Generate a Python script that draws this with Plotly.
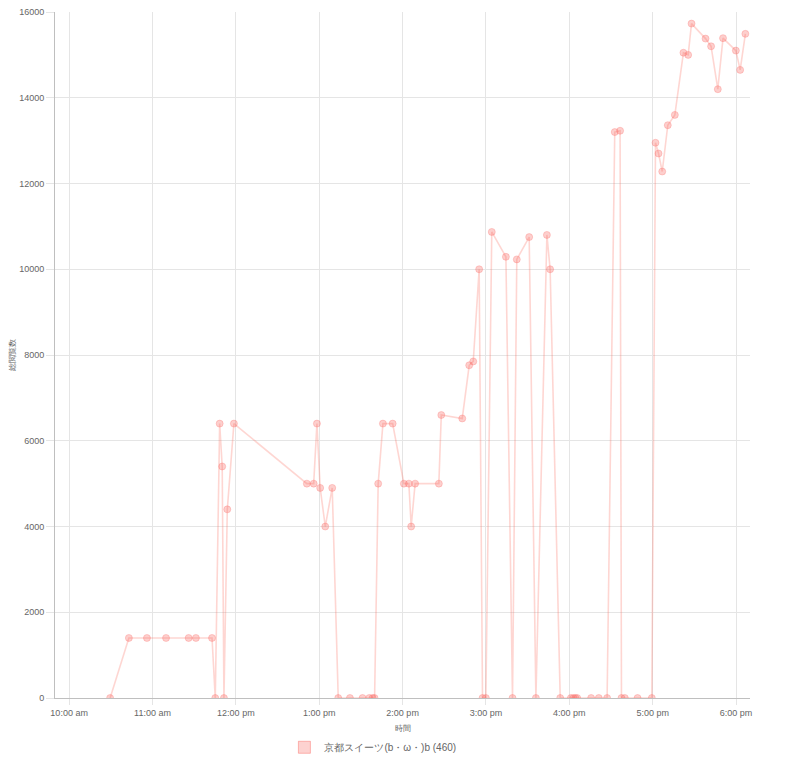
import plotly.graph_objects as go

DAY = "2016-01-01 "

times = [
    "10:29:30", "10:43:00", "10:56:00", "11:09:45", "11:26:00", "11:31:15", "11:42:50",
    "11:45:10", "11:48:20", "11:50:10", "11:51:25", "11:53:50", "11:58:35",
    "12:51:05", "12:56:00", "12:58:20", "13:00:40", "13:04:20", "13:09:20",
    "13:13:40", "13:22:05", "13:31:10", "13:36:00", "13:38:25", "13:39:50",
    "13:42:25", "13:45:50", "13:52:50", "14:00:55", "14:04:30", "14:06:10", "14:09:00",
    "14:26:05", "14:27:50", "14:42:55", "14:47:55", "14:50:50", "14:55:05",
    "14:57:30", "14:59:55", "15:04:10", "15:14:20", "15:19:05", "15:22:10",
    "15:31:05", "15:35:55", "15:43:50", "15:46:10", "15:53:25",
    "16:01:05", "16:02:55", "16:04:20", "16:05:40", "16:15:40", "16:21:10", "16:27:10",
    "16:32:40", "16:36:30", "16:37:30", "16:39:55", "16:49:05", "16:59:20",
    "17:02:00", "17:04:10", "17:06:50", "17:10:50", "17:15:55", "17:22:05",
    "17:25:30", "17:27:55", "17:38:00", "17:42:00", "17:46:50", "17:50:35",
    "17:59:50", "18:02:55", "18:06:40",
]

views = [
    0, 1400, 1400, 1400, 1400, 1400, 1400,
    0, 6400, 5400, 0, 4400, 6400,
    5000, 5000, 6400, 4900, 4000, 4900,
    0, 0, 0, 0, 0, 0,
    5000, 6400, 6400, 5000, 5000, 4000, 5000,
    5000, 6600, 6520, 7760, 7850, 10000,
    0, 0, 10870, 10290, 0, 10230,
    10750, 0, 10800, 10000, 0,
    0, 0, 0, 0, 0, 0, 0,
    13200, 13230, 0, 0, 0, 0,
    12950, 12700, 12280, 13360, 13600, 15050,
    15000, 15730, 15380, 15200, 14200, 15390,
    15100, 14650, 15490,
]

series_name = "京都スイーツ(b・ω・)b (460)"

x_tick_vals = ["10:00:00", "11:00:00", "12:00:00", "13:00:00", "14:00:00",
               "15:00:00", "16:00:00", "17:00:00", "18:00:00"]
x_tick_text = ["10:00 am", "11:00 am", "12:00 pm", "1:00 pm", "2:00 pm",
               "3:00 pm", "4:00 pm", "5:00 pm", "6:00 pm"]
y_tick_vals = [0, 2000, 4000, 6000, 8000, 10000, 12000, 14000, 16000]

x_title = "時間"
y_title = "総閲覧数"

xs = [DAY + t for t in times]

fig = go.Figure()
fig.add_trace(go.Scatter(
    x=xs, y=views, mode="lines+markers", showlegend=False,
    line=dict(color="rgba(250,105,90,0.27)", width=1.6),
    marker=dict(size=7, color="rgba(250,105,100,0.32)",
                line=dict(color="rgba(250,105,100,0.28)", width=1)),
    hoverinfo="x+y",
))
fig.add_trace(go.Bar(
    x=[None], y=[None], name=series_name, showlegend=True,
    marker=dict(color="rgba(250,105,100,0.3)",
                line=dict(color="rgba(250,105,100,0.45)", width=1)),
))

fig.update_layout(
    width=795, height=759,
    margin=dict(l=47, r=53, t=4, b=69),
    paper_bgcolor="white", plot_bgcolor="white",
    font=dict(family="Liberation Sans, Arial, sans-serif", size=9, color="#666"),
    showlegend=True,
    legend=dict(orientation="h", xref="container", yref="container",
                x=0.459, xanchor="center", y=0.026, yanchor="middle",
                font=dict(size=10, color="#666")),
    xaxis=dict(
        type="date", automargin=False,
        range=[DAY + "09:49:50", DAY + "18:10:00"],
        tickvals=[DAY + t for t in x_tick_vals], ticktext=x_tick_text,
        showgrid=True, gridcolor="#e5e5e5", gridwidth=1,
        ticks="outside", ticklen=6, tickcolor="#e5e5e5",
        showline=True, linecolor="#bfbfbf", linewidth=1,
        zeroline=False, ticklabeloverflow="allow",
        title=dict(text=x_title, font=dict(size=7.5, color="#666"), standoff=8),
        tickfont=dict(size=9, color="#666"),
    ),
    yaxis=dict(
        range=[0, 16000], automargin=False,
        tickvals=y_tick_vals, tickformat="d",
        showgrid=True, gridcolor="#e5e5e5", gridwidth=1,
        ticks="outside", ticklen=8, tickcolor="#e5e5e5",
        showline=True, linecolor="#bfbfbf", linewidth=1,
        zeroline=False, ticklabeloverflow="allow",
        title=dict(text=y_title, font=dict(size=7.5, color="#666"), standoff=17),
        tickfont=dict(size=9, color="#666"),
    ),
)

fig.write_html("out.html")
